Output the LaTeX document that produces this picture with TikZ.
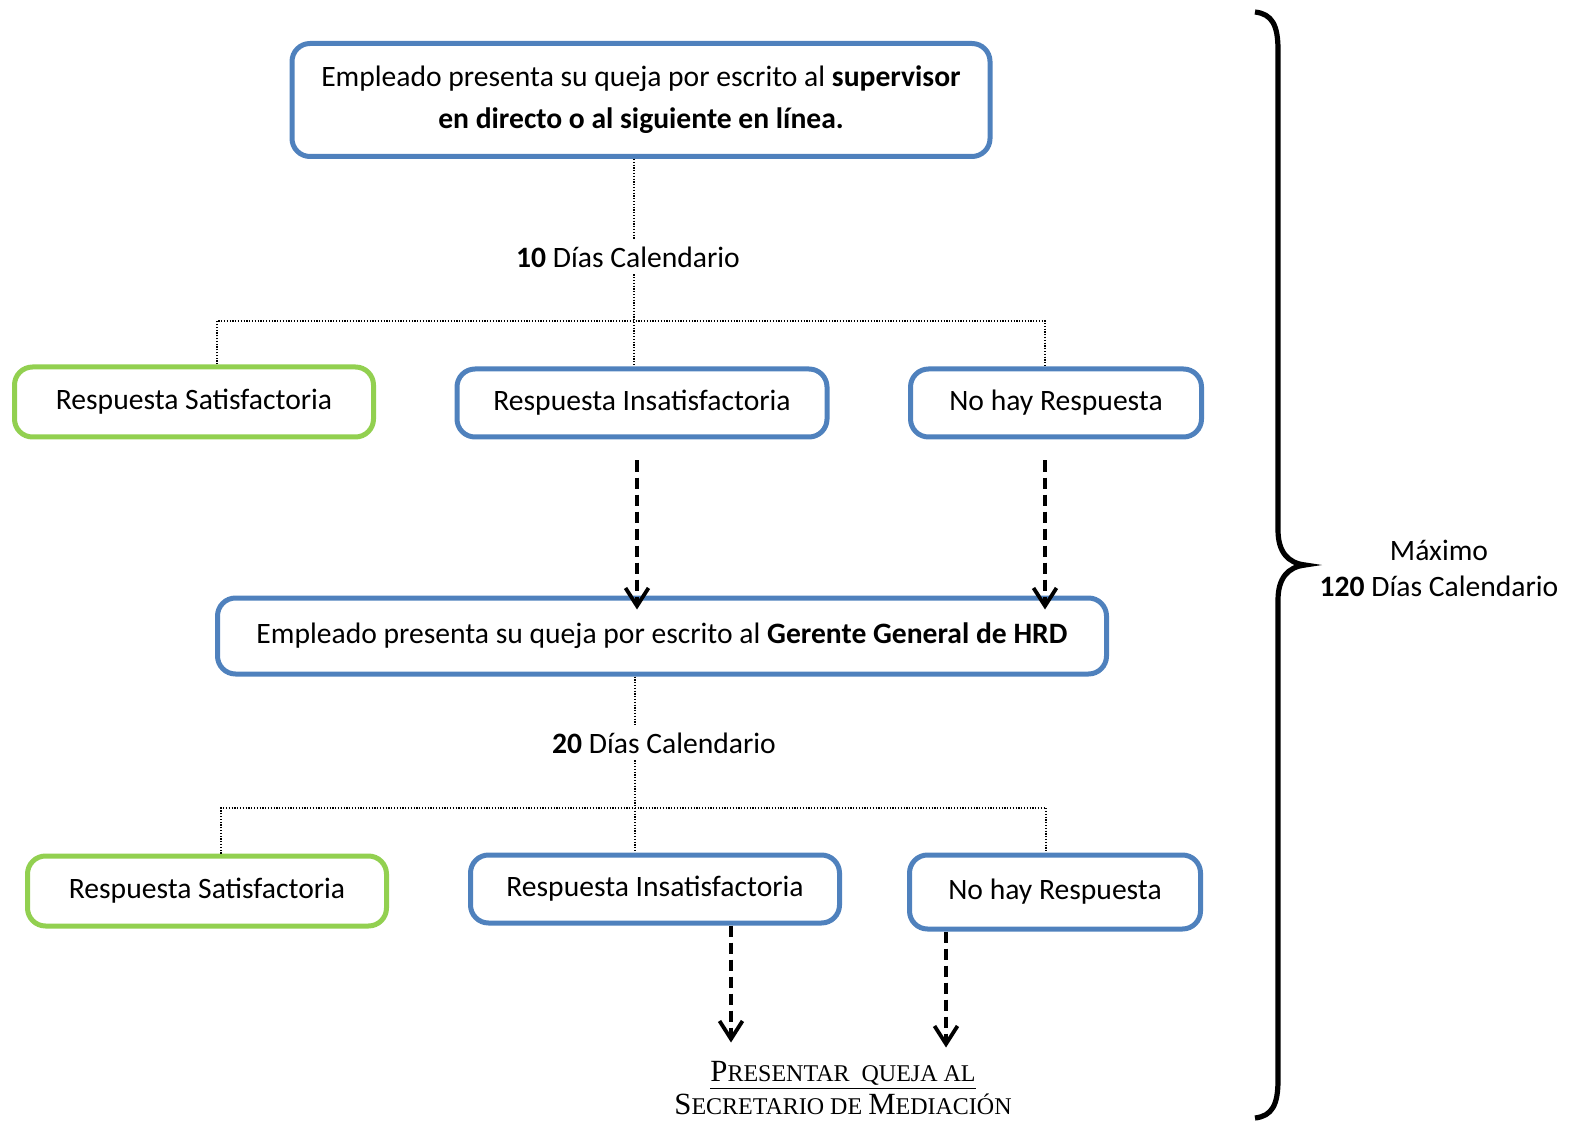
\documentclass[tikz,border=0pt]{standalone}
\usepackage{fontspec}
\setmainfont{Carlito}
\newfontfamily\timesfont{Liberation Serif}
\usetikzlibrary{positioning}
\usetikzlibrary{calc}
\usetikzlibrary{arrows.meta}

\definecolor{boxblue}{RGB}{79,129,189}
\definecolor{boxgreen}{RGB}{146,208,80}
\newcommand{\fakesc}[1]{{\fontsize{12pt}{19pt}\selectfont #1}}

\begin{document}
\begin{tikzpicture}[x=0.5pt,y=-0.5pt,
  font=\fontsize{14.8pt}{21pt}\selectfont,
  bluebox/.style={draw=boxblue,line width=2.5pt,rounded corners=9pt,align=center,inner sep=0pt},
  greenbox/.style={bluebox,draw=boxgreen},
  dotline/.style={line width=0.6pt,dash pattern=on 0.6pt off 0.8pt},
  dasharrow/.style={line width=1.9pt,dash pattern=on 5.5pt off 3pt,
    -{Straight Barb[length=9pt,width=11.5pt,line width=1.9pt]}}]
\useasboundingbox (0,0) rectangle (1572,1122);

\node[bluebox,minimum width=349pt,minimum height=56.5pt](top) at (641,100){Empleado presenta su queja por escrito al \textbf{supervisor}\\\textbf{en directo o al siguiente en línea.}};
\node[](dias10) at (628,257){\textbf{10} Días Calendario};
\coordinate (junc10) at (634,321);
\coordinate (left10) at (217,321);
\coordinate (right10) at (1045,321);
\node[greenbox,minimum width=179.5pt,minimum height=35pt](sat1) at (194,402){Respuesta Satisfactoria};
\node[bluebox,minimum width=185pt,minimum height=34pt](insat1) at (642,403){Respuesta Insatisfactoria};
\node[bluebox,minimum width=145.5pt,minimum height=34pt](nores1) at (1056,403){No hay Respuesta};

\node[bluebox,minimum width=444.5pt,minimum height=38pt](gerente) at (662,636){Empleado presenta su queja por escrito al \textbf{Gerente General de HRD}};
\node[](dias20) at (664,743){\textbf{20} Días Calendario};
\coordinate (junc20) at (635,808);
\coordinate (left20) at (221,808);
\coordinate (right20) at (1046,808);
\node[greenbox,minimum width=179.5pt,minimum height=35pt](sat2) at (207,891){Respuesta Satisfactoria};
\node[bluebox,minimum width=184.5pt,minimum height=34pt](insat2) at (655,889){Respuesta Insatisfactoria};
\node[bluebox,minimum width=145.5pt,minimum height=37pt](nores2) at (1055,892){No hay Respuesta};

\node[font=\timesfont\fontsize{15.4pt}{16.5pt}\selectfont,align=center,inner sep=0pt](secret) at (843,1088){\underline{P\fakesc{RESENTAR\ \ QUEJA AL}}\\S\fakesc{ECRETARIO DE }M\fakesc{EDIACIÓN}};
\node[align=center,font=\fontsize{14.8pt}{18pt}\selectfont](maximo) at (1439,568){Máximo\\\textbf{120} Días Calendario};

% plazos de 10 dias
\draw[dotline] (top.south -| junc10) -- (dias10.north -| junc10);
\draw[dotline] (dias10.south -| junc10) -- (junc10) -- (junc10 |- insat1.north);
\draw[dotline] (sat1.north -| left10) -- (left10) -- (right10) -- (right10 |- nores1.north);

% plazos de 20 dias
\draw[dotline] (gerente.south -| junc20) -- (dias20.north -| junc20);
\draw[dotline] (dias20.south -| junc20) -- (junc20) -- (junc20 |- insat2.north);
\draw[dotline] (sat2.north -| left20) -- (left20) -- (right20) -- (right20 |- nores2.north);

\draw[dasharrow] ($(insat1.south)+(-5,21)$) -- ($(insat1.south |- gerente.north)+(-5,14)$);
\draw[dasharrow] ($(nores1.south)+(-11,21)$) -- ($(nores1.south |- gerente.north)+(-11,14)$);
\draw[dasharrow] ($(insat2.south)+(76,0)$) -- ($(insat2.south)+(76,117)$);
\draw[dasharrow] ($(nores2.south)+(-109,0)$) -- ($(nores2.south)+(-109,116)$);

% llave
\draw[line width=2.6pt] (1255,12) .. controls (1272,14) and (1278,25) .. (1278,50) -- (1278,530)
  .. controls (1278,552) and (1288,563) .. (1305,565) .. controls (1288,567) and (1278,578) .. (1278,600)
  -- (1278,1080) .. controls (1278,1105) and (1272,1116) .. (1255,1118);
\end{tikzpicture}
\end{document}
